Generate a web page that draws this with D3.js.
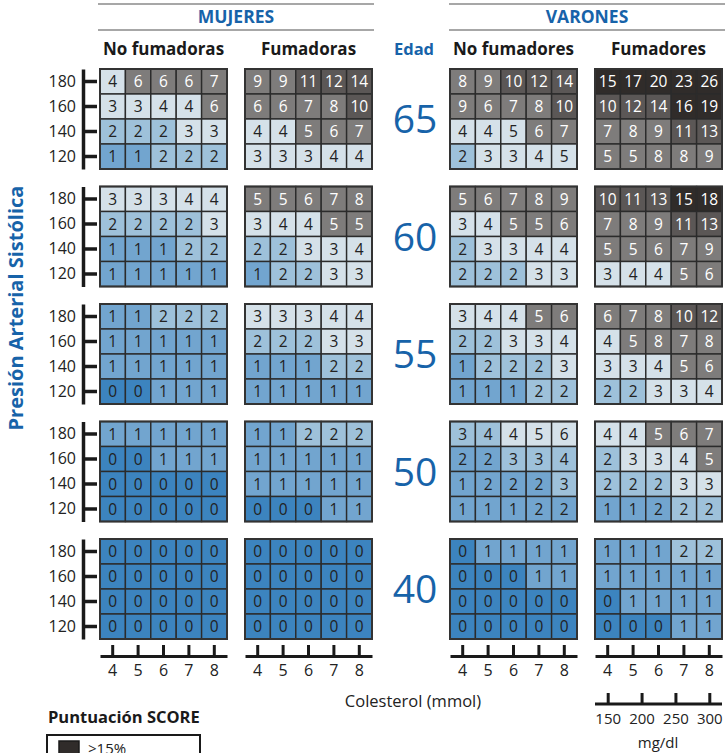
<!DOCTYPE html>
<html>
<head>
<meta charset="utf-8">
<script src="https://cdn.jsdelivr.net/npm/d3@7"></script>
<style>
body { margin: 0; background: #fff; }
text { font-family: "Open Sans", sans-serif; }
</style>
</head>
<body>
<div id="chart"></div>
<script>
// ages (rows of panels), systolic pressure (rows in a panel), cholesterol (columns)
var ages = [65, 60, 55, 50, 40];
var sbp = [180, 160, 140, 120];
var chol = [4, 5, 6, 7, 8];
var mgdl = [150, 200, 250, 300];

var women_non_smoker = [
	[[4,6,6,6,7],[3,3,4,4,6],[2,2,2,3,3],[1,1,2,2,2]],
	[[3,3,3,4,4],[2,2,2,2,3],[1,1,1,2,2],[1,1,1,1,1]],
	[[1,1,2,2,2],[1,1,1,1,1],[1,1,1,1,1],[0,0,1,1,1]],
	[[1,1,1,1,1],[0,0,1,1,1],[0,0,0,0,0],[0,0,0,0,0]],
	[[0,0,0,0,0],[0,0,0,0,0],[0,0,0,0,0],[0,0,0,0,0]]
];
var women_smoker = [
	[[9,9,11,12,14],[6,6,7,8,10],[4,4,5,6,7],[3,3,3,4,4]],
	[[5,5,6,7,8],[3,4,4,5,5],[2,2,3,3,4],[1,2,2,3,3]],
	[[3,3,3,4,4],[2,2,2,3,3],[1,1,1,2,2],[1,1,1,1,1]],
	[[1,1,2,2,2],[1,1,1,1,1],[1,1,1,1,1],[0,0,0,1,1]],
	[[0,0,0,0,0],[0,0,0,0,0],[0,0,0,0,0],[0,0,0,0,0]]
];
var men_non_smoker = [
	[[8,9,10,12,14],[9,6,7,8,10],[4,4,5,6,7],[2,3,3,4,5]],
	[[5,6,7,8,9],[3,4,5,5,6],[2,3,3,4,4],[2,2,2,3,3]],
	[[3,4,4,5,6],[2,2,3,3,4],[1,2,2,2,3],[1,1,1,2,2]],
	[[3,4,4,5,6],[2,2,3,3,4],[1,2,2,2,3],[1,1,1,2,2]],
	[[0,1,1,1,1],[0,0,0,1,1],[0,0,0,0,0],[0,0,0,0,0]]
];
var men_smoker = [
	[[15,17,20,23,26],[10,12,14,16,19],[7,8,9,11,13],[5,5,8,8,9]],
	[[10,11,13,15,18],[7,8,9,11,13],[5,5,6,7,9],[3,4,4,5,6]],
	[[6,7,8,10,12],[4,5,8,7,8],[3,3,4,5,6],[2,2,3,3,4]],
	[[4,4,5,6,7],[2,3,3,4,5],[2,2,2,3,3],[1,1,2,2,2]],
	[[1,1,1,2,2],[1,1,1,1,1],[0,1,1,1,1],[0,0,0,1,1]]
];

// cells whose colour in the picture does not follow the value: [panel, age, row, col, class]
var colour_exceptions = [
	[2,0,2,2,3], [2,0,3,4,3],
	[2,3,0,0,2], [2,3,0,1,2], [2,3,0,3,3], [2,3,0,4,3],
	[2,3,1,0,1], [2,3,1,1,1], [2,3,1,2,2], [2,3,1,3,2], [2,3,1,4,2],
	[2,3,2,1,1], [2,3,2,2,1], [2,3,2,3,1], [2,3,2,4,2],
	[2,3,3,3,1], [2,3,3,4,1],
	[3,3,3,2,1]
];

var legend_labels = ['≥15%', '10%-14%', '5%-9%', '3%-4%', '2%', '1%', '<1%'];
var colours = ['#3c84bf', '#72a5cf', '#9ec1da', '#d5e1e9', '#7e7c7b', '#5b5756', '#302c2a'];

var panels = [women_non_smoker, women_smoker, men_non_smoker, men_smoker];
var panel_x = [100, 245, 450, 595];
var panel_w = 127;
var panel_h = 100;
var block_top = 69;
var block_step = 117.5;
var blue = '#1763a9';

var chart_width = 725;
var chart_height = 753;

var svg = d3.select('#chart')
	.append('svg')
	.attr('width', chart_width)
	.attr('height', chart_height);

var class_of = d3.scaleThreshold()
	.domain([1, 2, 3, 5, 10, 15])
	.range([0, 1, 2, 3, 4, 5, 6]);

var x_scale = d3.scaleBand().domain(chol).range([0, panel_w]);
var y_scale = d3.scaleBand().domain(sbp).range([0, panel_h]);

var exc = {};
colour_exceptions.forEach(function(e){
	exc[e.slice(0, 4).join('-')] = e[4];
});

// cells
panels.forEach(function(panel, p){
	panel.forEach(function(grid, a){
		var g = svg.append('g')
			.attr('transform', 'translate(' + panel_x[p] + ',' + (block_top + a * block_step) + ')');

		var cells = [];
		grid.forEach(function(row, r){
			row.forEach(function(v, c){
				var key = [p, a, r, c].join('-');
				var cls = exc[key] !== undefined ? exc[key] : class_of(v);
				cells.push({ v: v, sbp: sbp[r], chol: chol[c], cls: cls });
			});
		});

		g.selectAll('rect')
			.data(cells)
			.enter()
			.append('rect')
			.attr('x', function(d){ return x_scale(d.chol); })
			.attr('y', function(d){ return y_scale(d.sbp); })
			.attr('width', x_scale.bandwidth())
			.attr('height', y_scale.bandwidth())
			.attr('fill', function(d){ return colours[d.cls]; })
			.attr('stroke', '#2b2b2b')
			.attr('stroke-width', 1.4);

		g.selectAll('text')
			.data(cells)
			.enter()
			.append('text')
			.text(function(d){ return d.v; })
			.attr('x', function(d){ return x_scale(d.chol) + x_scale.bandwidth() / 2; })
			.attr('y', function(d){ return y_scale(d.sbp) + y_scale.bandwidth() / 2; })
			.attr('dy', '0.36em')
			.attr('text-anchor', 'middle')
			.attr('font-size', 15.5)
			.attr('fill', function(d){ return d.cls >= 4 ? '#fff' : '#222'; });

		g.append('rect')
			.attr('width', panel_w)
			.attr('height', panel_h)
			.attr('fill', 'none')
			.attr('stroke', '#333')
			.attr('stroke-width', 2);
	});
});

// y axes
ages.forEach(function(age, a){
	var y0 = block_top + a * block_step;
	var y_axis = d3.axisLeft(y_scale).tickSizeInner(-14).tickSizeOuter(0).tickPadding(7);
	var ax = svg.append('g')
		.attr('class', 'y-axis')
		.attr('transform', 'translate(83,' + y0 + ')')
		.call(y_axis);
	ax.selectAll('path, line').attr('stroke', '#1a1a1a').attr('stroke-width', 3.5);
	ax.selectAll('text').attr('font-size', 16).attr('fill', '#222')
		.style('font-family', '"Open Sans", sans-serif');

	svg.append('text')
		.text(age)
		.attr('x', 415)
		.attr('y', y0 + panel_h / 2)
		.attr('dy', '0.36em')
		.attr('text-anchor', 'middle')
		.attr('font-size', 39)
		.attr('fill', blue);
});

// x axes (mmol)
panel_x.forEach(function(px){
	var x_axis = d3.axisBottom(x_scale).tickSizeInner(-11).tickSizeOuter(0).tickPadding(9);
	var ax = svg.append('g')
		.attr('class', 'x-axis')
		.attr('transform', 'translate(' + px + ',656)')
		.call(x_axis);
	ax.selectAll('path, line').attr('stroke', '#1a1a1a').attr('stroke-width', 3);
	ax.selectAll('text').attr('font-size', 16).attr('fill', '#222')
		.style('font-family', '"Open Sans", sans-serif');
});

// mg/dl axis
var mg_scale = d3.scaleLinear()
	.domain([d3.min(mgdl), d3.max(mgdl)])
	.range([panel_x[3] + x_scale(4) + x_scale.bandwidth() / 2, panel_x[3] + x_scale(8) + x_scale.bandwidth() / 2]);
var mg_axis = d3.axisBottom(mg_scale).tickValues(mgdl).tickSizeInner(-11).tickSizeOuter(0).tickPadding(9);
var mg = svg.append('g')
	.attr('transform', 'translate(0,704)')
	.call(mg_axis);
mg.select('.domain').remove();
mg.append('line')
	.attr('x1', panel_x[3]).attr('x2', panel_x[3] + panel_w);
mg.selectAll('line').attr('stroke', '#1a1a1a').attr('stroke-width', 3);
mg.selectAll('text').attr('font-size', 15).attr('fill', '#222')
	.style('font-family', '"Open Sans", sans-serif');

svg.append('text').text('mg/dl')
	.attr('x', 658).attr('y', 748)
	.attr('text-anchor', 'middle').attr('font-size', 15).attr('fill', '#222');

svg.append('text').text('Colesterol (mmol)')
	.attr('x', 413).attr('y', 707)
	.attr('text-anchor', 'middle').attr('font-size', 16.5).attr('fill', '#222');

// headers
[[98, 374, 'MUJERES', 'No fumadoras', 'Fumadoras'], [449, 725, 'VARONES', 'No fumadores', 'Fumadores']]
	.forEach(function(h, i){
		[4, 30].forEach(function(y){
			svg.append('line')
				.attr('x1', h[0]).attr('x2', h[1]).attr('y1', y).attr('y2', y)
				.attr('stroke', '#8a8a8a').attr('stroke-width', 1.6);
		});
		svg.append('text').text(h[2])
			.attr('x', (h[0] + h[1]) / 2).attr('y', 23)
			.attr('text-anchor', 'middle').attr('font-size', 17.5).attr('font-weight', 'bold')
			.attr('fill', blue);
		svg.append('text').text(h[3])
			.attr('x', panel_x[i * 2] + panel_w / 2).attr('y', 55)
			.attr('text-anchor', 'middle').attr('font-size', 17).attr('font-weight', 'bold')
			.attr('fill', '#1a1a1a');
		svg.append('text').text(h[4])
			.attr('x', panel_x[i * 2 + 1] + panel_w / 2).attr('y', 55)
			.attr('text-anchor', 'middle').attr('font-size', 17).attr('font-weight', 'bold')
			.attr('fill', '#1a1a1a');
	});

svg.append('text').text('Edad')
	.attr('x', 414).attr('y', 55)
	.attr('text-anchor', 'middle').attr('font-size', 16.5).attr('font-weight', 'bold')
	.attr('fill', blue);

svg.append('text').text('Presión Arterial Sistólica')
	.attr('transform', 'translate(23,308) rotate(-90)')
	.attr('text-anchor', 'middle').attr('font-size', 20).attr('font-weight', 'bold')
	.attr('fill', blue);

// legend
svg.append('text').text('Puntuación SCORE')
	.attr('x', 48).attr('y', 723)
	.attr('font-size', 16.5).attr('font-weight', 'bold').attr('fill', '#1a1a1a');

svg.append('rect')
	.attr('x', 47).attr('y', 735)
	.attr('width', 153).attr('height', 7 * 22 + 10)
	.attr('fill', 'none').attr('stroke', '#1a1a1a').attr('stroke-width', 2);

var leg = svg.selectAll('.leg')
	.data(legend_labels)
	.enter()
	.append('g')
	.attr('class', 'leg')
	.attr('transform', function(d, i){ return 'translate(59,' + (741 + i * 22) + ')'; });
leg.append('rect')
	.attr('width', 20).attr('height', 15)
	.attr('fill', function(d, i){ return colours[6 - i]; })
	.attr('stroke', '#1a1a1a').attr('stroke-width', 1.5);
leg.append('text')
	.text(function(d){ return d; })
	.attr('x', 29).attr('y', 13)
	.attr('font-size', 15).attr('fill', '#222');
</script>
</body>
</html>
